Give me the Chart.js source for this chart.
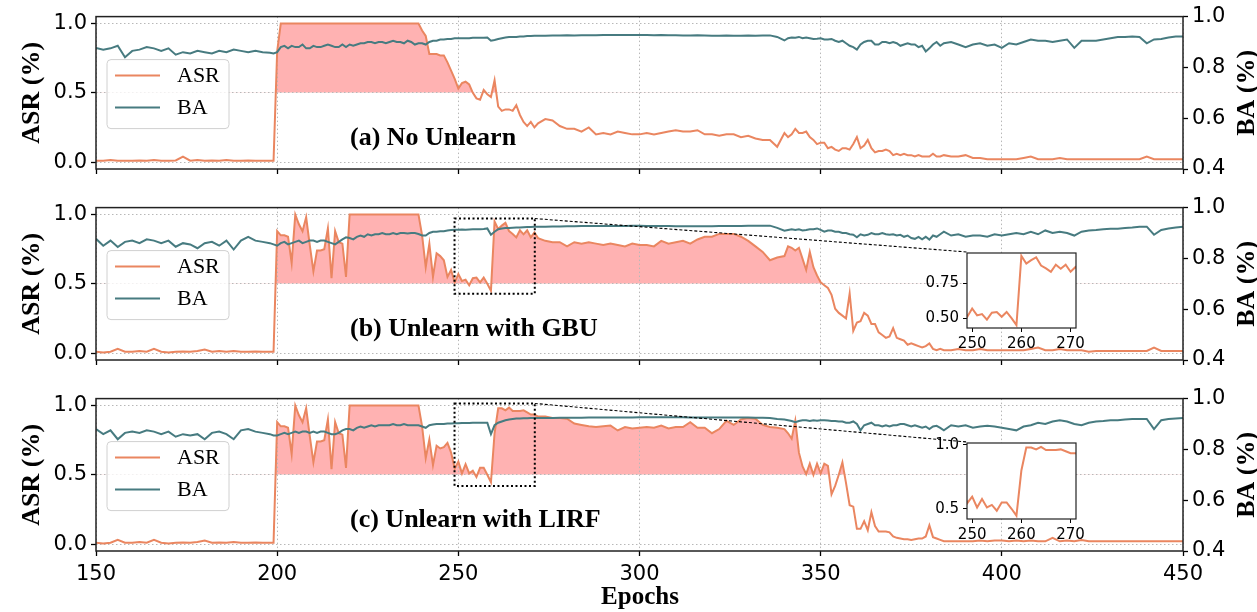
<!DOCTYPE html>
<html>
<head>
<meta charset="utf-8">
<script src="https://cdn.jsdelivr.net/npm/chart.js@4.4.1/dist/chart.umd.min.js"></script>
<style>
  body { margin: 0; background: #fff; }
  #wrap { position: relative; width: 1257px; height: 612px; overflow: hidden; }
  canvas { position: absolute; }
</style>
</head>
<body>
<div id="wrap">
  <canvas id="chartA" width="1257" height="195" style="left:0;top:0"></canvas>
  <canvas id="chartB" width="1257" height="194" style="left:0;top:191px"></canvas>
  <canvas id="chartC" width="1257" height="230" style="left:0;top:382px"></canvas>
  <canvas id="insetB" width="200" height="130" style="left:900px;top:240px"></canvas>
  <canvas id="insetC" width="200" height="130" style="left:900px;top:430px"></canvas>
</div>
<script>
// epochs (dense where the curves move fast)
const epochs = [
  150,152,154,156,158,160,162,164,166,168,170,172,174,176,178,180,182,184,186,188,190,192,194,196,198,
  199,
  200,201,202,203,204,205,206,207,208,209,210,211,212,213,214,215,216,217,218,219,
  220,221,222,223,224,225,226,227,228,229,230,231,232,233,234,235,236,237,238,239,
  240,241,242,243,244,245,246,247,248,249,250,251,252,253,254,255,256,257,258,259,
  260,261,262,263,264,265,266,267,268,269,270,271,272,
  274,276,278,280,282,284,286,288,290,292,294,296,298,300,302,304,306,308,310,312,
  314,316,318,320,322,324,326,328,330,332,334,336,338,340,
  341,342,343,344,345,346,347,348,349,350,351,352,353,354,355,356,357,358,359,360,
  361,362,363,364,365,366,367,368,369,370,371,372,373,374,375,376,377,378,379,380,
  381,382,383,384,
  386,388,390,392,394,396,398,400,402,404,406,408,410,412,414,416,418,420,422,424,
  426,428,430,432,434,436,438,440,442,444,446,448,450
];

// (a) No Unlearn
const asrA = [
  0.01,0.01,0.015,0.01,0.01,0.01,0.012,0.01,0.015,0.01,0.01,0.012,0.04,0.01,0.015,0.01,0.012,0.01,0.015,0.01,0.01,0.012,0.01,0.01,0.01,
  0.01,
  0.80,1.0,1.0,1.0,1.0,1.0,1.0,1.0,1.0,1.0, 1.0,1.0,1.0,1.0,1.0,1.0,1.0,1.0,1.0,1.0,
  1.0,1.0,1.0,1.0,1.0,1.0,1.0,1.0,1.0,1.0, 1.0,1.0,1.0,1.0,1.0,1.0,1.0,1.0,1.0,1.0,
  0.95,0.91,0.78,0.78,0.78,0.77,0.77,0.72,0.66,0.60, 0.53,0.57,0.58,0.56,0.50,0.46,0.45,0.52,0.49,0.47,
  0.59,0.40,0.37,0.38,0.38,0.37,0.41,0.34,0.29,0.26, 0.29,0.25,0.28,
  0.31,0.30,0.26,0.24,0.24,0.22,0.25,0.20,0.21,0.20, 0.22,0.21,0.20,0.20,0.21,0.20,0.21,0.22,0.23,0.22,
  0.22,0.23,0.20,0.20,0.19,0.20,0.20,0.18,0.19,0.17, 0.16,0.16,0.11,0.21,
  0.18,0.20,0.24,0.21,0.21,0.22,0.18,0.16,0.13,0.14, 0.14,0.10,0.11,0.09,0.08,0.10,0.10,0.09,0.13,0.18,
  0.10,0.12,0.16,0.10,0.07,0.08,0.08,0.09,0.08,0.05, 0.06,0.05,0.06,0.05,0.05,0.04,0.05,0.04,0.04,0.04,
  0.06,0.04,0.04,0.05,
  0.04,0.04,0.05,0.03,0.03,0.02,0.02,0.02,0.02,0.02, 0.03,0.04,0.02,0.02,0.02,0.03,0.02,0.02,0.02,0.02,
  0.02,0.02,0.02,0.02,0.02,0.02,0.02,0.04,0.02,0.02, 0.02,0.02,0.02
];
const baA = [
  0.876,0.87,0.875,0.885,0.84,0.865,0.87,0.88,0.875,0.865,0.875,0.85,0.86,0.855,0.865,0.86,0.855,0.865,0.86,0.87,0.865,0.86,0.865,0.86,0.858,
  0.855,
  0.86,0.88,0.885,0.875,0.885,0.88,0.88,0.89,0.875,0.875, 0.885,0.88,0.88,0.885,0.89,0.885,0.88,0.88,0.89,0.88,
  0.89,0.885,0.89,0.895,0.895,0.90,0.90,0.895,0.90,0.90, 0.895,0.90,0.905,0.90,0.90,0.895,0.905,0.90,0.89,0.895,
  0.895,0.89,0.90,0.905,0.905,0.91,0.91,0.912,0.912,0.915, 0.915,0.915,0.915,0.915,0.917,0.917,0.917,0.917,0.918,0.905,
  0.908,0.912,0.915,0.918,0.92,0.92,0.92,0.922,0.922,0.924, 0.924,0.925,0.925,
  0.925,0.926,0.926,0.927,0.926,0.927,0.927,0.927,0.928,0.928, 0.928,0.928,0.928,0.928,0.928,0.927,0.928,0.927,0.927,0.926,
  0.926,0.927,0.926,0.925,0.925,0.926,0.925,0.925,0.926,0.925, 0.926,0.926,0.92,0.906,
  0.915,0.918,0.917,0.92,0.915,0.918,0.915,0.912,0.913,0.915, 0.91,0.91,0.912,0.905,0.90,0.905,0.895,0.885,0.88,0.87,
  0.89,0.90,0.905,0.905,0.89,0.89,0.90,0.90,0.895,0.90, 0.895,0.885,0.89,0.895,0.89,0.89,0.88,0.885,0.863,0.875,
  0.89,0.90,0.885,0.895,
  0.90,0.89,0.88,0.89,0.895,0.885,0.89,0.877,0.895,0.89, 0.90,0.91,0.905,0.905,0.90,0.905,0.91,0.877,0.905,0.905,
  0.905,0.91,0.915,0.92,0.92,0.922,0.92,0.895,0.91,0.912, 0.918,0.922,0.922
];

// (b) Unlearn with GBU
const asrB = [
  0.01,0.005,0.01,0.03,0.01,0.01,0.015,0.01,0.03,0.01,0.005,0.01,0.012,0.01,0.015,0.025,0.01,0.015,0.01,0.015,0.01,0.01,0.012,0.01,0.01,
  0.01,
  0.88,0.85,0.85,0.84,0.65,1.0,0.93,0.88,0.98,0.78, 0.59,0.74,0.74,0.75,0.90,0.54,0.88,0.80,0.79,0.55,
  1.0,1.0,1.0,1.0,1.0,1.0,1.0,1.0,1.0,1.0, 1.0,1.0,1.0,1.0,1.0,1.0,1.0,1.0,1.0,1.0,
  0.85,0.62,0.79,0.55,0.72,0.70,0.67,0.55,0.60,0.51, 0.57,0.52,0.53,0.49,0.54,0.545,0.51,0.545,0.50,0.45,
  0.95,0.895,0.92,0.94,0.88,0.86,0.835,0.886,0.857,0.886, 0.835,0.87,0.83,
  0.81,0.80,0.80,0.77,0.80,0.79,0.80,0.79,0.78,0.79, 0.78,0.77,0.79,0.78,0.78,0.77,0.81,0.79,0.80,0.81,
  0.79,0.82,0.84,0.84,0.86,0.86,0.86,0.84,0.81,0.77, 0.73,0.67,0.69,0.70,
  0.77,0.76,0.74,0.76,0.68,0.60,0.73,0.62,0.56,0.51, 0.49,0.47,0.42,0.32,0.29,0.27,0.25,0.43,0.16,0.22,
  0.23,0.29,0.27,0.21,0.21,0.15,0.13,0.11,0.12,0.18, 0.11,0.10,0.09,0.06,0.07,0.06,0.05,0.04,0.05,0.07,
  0.03,0.02,0.03,0.02,
  0.02,0.03,0.02,0.02,0.03,0.02,0.02,0.02,0.02,0.02, 0.02,0.03,0.04,0.02,0.02,0.03,0.02,0.02,0.02,0.01,
  0.015,0.015,0.015,0.015,0.015,0.015,0.015,0.015,0.04,0.015, 0.015,0.015,0.015
];
const baB = [
  0.877,0.85,0.87,0.845,0.865,0.87,0.86,0.875,0.87,0.86,0.87,0.846,0.86,0.855,0.84,0.86,0.865,0.85,0.87,0.835,0.87,0.885,0.87,0.865,0.86,
  0.855,
  0.85,0.86,0.865,0.855,0.86,0.865,0.87,0.86,0.865,0.87, 0.87,0.865,0.87,0.87,0.865,0.86,0.855,0.865,0.875,0.883,
  0.88,0.875,0.885,0.89,0.885,0.895,0.89,0.895,0.895,0.90, 0.895,0.895,0.90,0.895,0.90,0.90,0.898,0.90,0.90,0.896,
  0.89,0.89,0.90,0.905,0.905,0.907,0.907,0.91,0.912,0.913, 0.913,0.914,0.913,0.914,0.915,0.915,0.915,0.916,0.918,0.893,
  0.905,0.915,0.918,0.92,0.92,0.921,0.922,0.922,0.923,0.924, 0.924,0.925,0.925,
  0.925,0.926,0.926,0.927,0.927,0.928,0.928,0.928,0.928,0.928, 0.928,0.928,0.929,0.929,0.928,0.928,0.928,0.928,0.927,0.927,
  0.927,0.927,0.927,0.927,0.928,0.928,0.928,0.928,0.929,0.929, 0.929,0.929,0.92,0.909,
  0.912,0.915,0.912,0.915,0.91,0.912,0.915,0.915,0.918,0.912, 0.905,0.91,0.91,0.905,0.905,0.90,0.90,0.895,0.893,0.883,
  0.895,0.89,0.893,0.90,0.895,0.895,0.90,0.895,0.893,0.895, 0.89,0.893,0.885,0.89,0.88,0.877,0.885,0.875,0.885,0.874,
  0.89,0.885,0.895,0.905,
  0.89,0.895,0.885,0.89,0.89,0.885,0.895,0.89,0.895,0.90, 0.895,0.905,0.895,0.91,0.90,0.905,0.90,0.89,0.905,0.91,
  0.912,0.915,0.917,0.917,0.92,0.922,0.925,0.925,0.893,0.912, 0.918,0.922,0.925
];

// (c) Unlearn with LIRF
const asrC = [
  0.01,0.005,0.01,0.03,0.01,0.01,0.015,0.01,0.03,0.01,0.005,0.01,0.012,0.01,0.015,0.025,0.01,0.012,0.01,0.015,0.01,0.01,0.012,0.01,0.01,
  0.01,
  0.88,0.85,0.85,0.84,0.65,1.0,0.93,0.88,0.98,0.78, 0.59,0.74,0.74,0.75,0.90,0.54,0.88,0.80,0.79,0.55,
  1.0,1.0,1.0,1.0,1.0,1.0,1.0,1.0,1.0,1.0, 1.0,1.0,1.0,1.0,1.0,1.0,1.0,1.0,1.0,1.0,
  0.85,0.62,0.755,0.57,0.71,0.69,0.70,0.73,0.66,0.544, 0.595,0.51,0.577,0.51,0.53,0.485,0.55,0.55,0.50,0.446,
  0.80,0.98,0.98,0.965,0.985,0.96,0.96,0.96,0.965,0.95, 0.935,0.935,0.92,
  0.92,0.91,0.91,0.905,0.87,0.86,0.85,0.845,0.85,0.855, 0.82,0.845,0.835,0.84,0.845,0.84,0.855,0.835,0.845,0.845,
  0.88,0.84,0.84,0.80,0.83,0.89,0.86,0.90,0.91,0.905, 0.86,0.845,0.84,0.83,
  0.80,0.76,0.89,0.66,0.56,0.505,0.58,0.50,0.58,0.51, 0.58,0.565,0.36,0.42,0.50,0.59,0.44,0.28,0.27,0.11,
  0.11,0.165,0.10,0.23,0.13,0.09,0.09,0.09,0.085,0.055, 0.045,0.04,0.035,0.035,0.03,0.035,0.04,0.04,0.055,0.135,
  0.05,0.04,0.03,0.02,
  0.02,0.02,0.02,0.02,0.025,0.02,0.025,0.025,0.02,0.025, 0.02,0.025,0.02,0.02,0.045,0.02,0.025,0.02,0.03,0.02,
  0.02,0.02,0.02,0.02,0.02,0.02,0.02,0.02,0.02,0.02, 0.02,0.02,0.02
];
const baC = [
  0.88,0.86,0.875,0.84,0.865,0.87,0.865,0.875,0.87,0.86,0.87,0.85,0.86,0.855,0.86,0.84,0.865,0.87,0.86,0.84,0.875,0.88,0.87,0.865,0.86,
  0.855,
  0.855,0.86,0.865,0.86,0.865,0.87,0.865,0.87,0.87,0.865, 0.87,0.865,0.87,0.87,0.865,0.86,0.86,0.865,0.875,0.88,
  0.88,0.875,0.885,0.89,0.885,0.89,0.895,0.89,0.895,0.895, 0.895,0.895,0.90,0.895,0.895,0.90,0.895,0.895,0.895,0.895,
  0.89,0.885,0.895,0.898,0.90,0.90,0.90,0.902,0.902,0.903, 0.903,0.904,0.904,0.904,0.905,0.905,0.905,0.905,0.905,0.86,
  0.895,0.905,0.91,0.915,0.918,0.92,0.922,0.922,0.923,0.923, 0.924,0.924,0.924,
  0.924,0.924,0.925,0.925,0.925,0.925,0.926,0.926,0.926,0.926, 0.926,0.926,0.926,0.927,0.927,0.927,0.927,0.927,0.927,0.927,
  0.926,0.926,0.926,0.926,0.926,0.926,0.926,0.926,0.926,0.925, 0.925,0.924,0.92,0.918,
  0.915,0.912,0.907,0.912,0.915,0.915,0.912,0.915,0.913,0.915, 0.915,0.914,0.912,0.912,0.91,0.91,0.905,0.905,0.91,0.90,
  0.875,0.895,0.90,0.905,0.895,0.895,0.89,0.895,0.89,0.895, 0.895,0.90,0.90,0.895,0.89,0.895,0.89,0.885,0.89,0.88,
  0.89,0.893,0.885,0.875,
  0.895,0.89,0.895,0.885,0.89,0.893,0.89,0.885,0.88,0.875, 0.89,0.895,0.905,0.90,0.91,0.915,0.91,0.90,0.895,0.905,
  0.91,0.912,0.915,0.915,0.918,0.92,0.92,0.92,0.88,0.915, 0.92,0.922,0.924
];

const ORANGE = '#ea8660';
const TEAL = '#477b80';
const FILL = 'rgba(255, 0, 0, 0.3)';
const GRID = '#b8b8b8';
const SERIF = '"Liberation Serif", "Times New Roman", serif';

Chart.defaults.font.family = '"DejaVu Sans", sans-serif';
Chart.defaults.color = '#000';

const pairs = (xs, ys) => xs.map((x, i) => ({ x, y: ys[i] }));

// inset windows, in data units of the main ASR axis
const zoomB = { xMin: 248.95, xMax: 271.1, yMin: 0.429, yMax: 0.971, inset: { x: 967, y: 252 } };
const zoomC = { xMin: 248.95, xMax: 271.1, yMin: 0.42, yMax: 1.015, inset: { x: 967, y: 442 } };

function decor(label, zoom, canvasTop, withXTitle) {
  return {
    id: 'decor',
    afterDraw(chart) {
      const { ctx, chartArea: a, scales } = chart;
      ctx.save();

      // axes frame
      ctx.strokeStyle = '#222';
      ctx.lineWidth = 1.5;
      ctx.strokeRect(a.left, a.top, a.right - a.left, a.bottom - a.top);

      // zoom rectangle + connector to the inset
      if (zoom) {
        const x0 = scales.x.getPixelForValue(zoom.xMin);
        const x1 = scales.x.getPixelForValue(zoom.xMax);
        const y0 = scales.y.getPixelForValue(zoom.yMax);
        const y1 = scales.y.getPixelForValue(zoom.yMin);
        ctx.strokeStyle = '#000';
        ctx.lineWidth = 2;
        ctx.setLineDash([2, 2.5]);
        ctx.strokeRect(x0, y0, x1 - x0, y1 - y0);
        ctx.lineWidth = 1.1;
        ctx.setLineDash([3, 2]);
        ctx.beginPath();
        ctx.moveTo(x1, y0);
        ctx.lineTo(zoom.inset.x, zoom.inset.y - canvasTop);
        ctx.stroke();
        ctx.setLineDash([]);
      }

      // legend
      const lx = 107, ly = a.top + 43;
      ctx.fillStyle = 'rgba(255,255,255,0.8)';
      ctx.strokeStyle = '#d0d0d0';
      ctx.lineWidth = 1;
      ctx.beginPath();
      ctx.roundRect(lx, ly, 122, 69, 4);
      ctx.fill();
      ctx.stroke();
      const items = [['ASR', ORANGE, ly + 16], ['BA', TEAL, ly + 48]];
      ctx.font = '22px ' + SERIF;
      ctx.textBaseline = 'middle';
      ctx.textAlign = 'left';
      items.forEach(([t, c, y]) => {
        ctx.strokeStyle = c;
        ctx.lineWidth = 2;
        ctx.beginPath();
        ctx.moveTo(115, y);
        ctx.lineTo(160, y);
        ctx.stroke();
        ctx.fillStyle = '#000';
        ctx.fillText(t, 177, y + 1);
      });

      // panel label
      ctx.font = 'bold 26px ' + SERIF;
      ctx.textBaseline = 'alphabetic';
      ctx.fillText(label, 350, a.top + 128);

      // axis titles
      const mid = (a.top + a.bottom) / 2;
      ctx.textAlign = 'center';
      ctx.textBaseline = 'middle';
      [['ASR (%)', 32], ['BA (%)', 1247]].forEach(([t, x]) => {
        ctx.save();
        ctx.translate(x, mid);
        ctx.rotate(-Math.PI / 2);
        ctx.fillText(t, 0, 0);
        ctx.restore();
      });
      if (withXTitle) {
        ctx.font = 'bold 25px ' + SERIF;
        ctx.textBaseline = 'alphabetic';
        ctx.fillText('Epochs', 640, a.bottom + 53);
      }
      ctx.restore();
    }
  };
}

function mainChart(id, asr, ba, label, zoom, canvasTop, xHeight, showX) {
  const tickFont = { size: 21 };
  const gridOpts = { color: GRID, lineWidth: 1, tickColor: '#000', tickLength: 5, tickWidth: 1.3 };
  return new Chart(document.getElementById(id), {
    type: 'line',
    data: {
      datasets: [
        {
          label: 'ASR', data: pairs(epochs, asr), yAxisID: 'y', order: 1,
          borderColor: ORANGE, borderWidth: 2, pointRadius: 0, tension: 0,
          fill: { target: { value: 0.5 }, above: FILL, below: 'rgba(0,0,0,0)' }
        },
        {
          label: 'BA', data: pairs(epochs, ba), yAxisID: 'y1', order: 0,
          borderColor: TEAL, borderWidth: 2, pointRadius: 0, tension: 0, fill: false
        }
      ]
    },
    options: {
      responsive: false,
      animation: false,
      events: [],
      layout: { padding: { top: 14, left: 0, right: 0, bottom: 0 } },
      plugins: {
        legend: { display: false },
        tooltip: { enabled: false },
        filler: { drawTime: 'beforeDraw' }
      },
      scales: {
        x: {
          type: 'linear', min: 150, max: 450,
          ticks: { stepSize: 50, display: showX, font: tickFont, padding: 6, maxRotation: 0 },
          grid: gridOpts,
          border: { display: false, dash: [1.5, 2.5] },
          afterFit: s => { s.height = xHeight; }
        },
        y: {
          position: 'left', min: -0.05, max: 1.05,
          afterBuildTicks: s => { s.ticks = [0, 0.5, 1].map(v => ({ value: v })); },
          ticks: { font: tickFont, padding: 4, callback: v => v.toFixed(1) },
          grid: gridOpts,
          border: { display: false, dash: [1.5, 2.5] },
          afterFit: s => { s.width = 96; }
        },
        y1: {
          position: 'right', min: 0.4, max: 1.0,
          ticks: { stepSize: 0.2, font: tickFont, padding: 4, callback: v => v.toFixed(1) },
          grid: { drawOnChartArea: false, tickColor: '#000', tickLength: 5, tickWidth: 1.3 },
          border: { display: false },
          afterFit: s => { s.width = 74; }
        }
      }
    },
    plugins: [decor(label, zoom, canvasTop, showX)]
  });
}

const insetFrame = {
  id: 'insetFrame',
  beforeDraw(chart) {
    const { ctx, chartArea: a } = chart;
    ctx.save();
    ctx.fillStyle = '#fff';
    ctx.fillRect(a.left, a.top, a.right - a.left, a.bottom - a.top);
    ctx.restore();
  },
  afterDraw(chart) {
    const { ctx, chartArea: a } = chart;
    ctx.save();
    ctx.strokeStyle = '#222';
    ctx.lineWidth = 1.2;
    ctx.strokeRect(a.left, a.top, a.right - a.left, a.bottom - a.top);
    ctx.restore();
  }
};

function insetChart(id, asr, zoom, yTicks, digits, xHeight) {
  const xs = [], ys = [];
  epochs.forEach((e, i) => { if (e >= 248 && e <= 272) { xs.push(e); ys.push(asr[i]); } });
  const font = { size: 15 };
  const grid = { drawOnChartArea: false, tickColor: '#000', tickLength: 4, tickWidth: 1 };
  return new Chart(document.getElementById(id), {
    type: 'line',
    data: {
      datasets: [{ data: pairs(xs, ys), borderColor: ORANGE, borderWidth: 2, pointRadius: 0, tension: 0, fill: false }]
    },
    options: {
      responsive: false,
      animation: false,
      events: [],
      layout: { padding: { top: 12, left: 0, right: 24, bottom: 0 } },
      plugins: { legend: { display: false }, tooltip: { enabled: false } },
      scales: {
        x: {
          type: 'linear', min: zoom.xMin, max: zoom.xMax,
          afterBuildTicks: s => { s.ticks = [250, 260, 270].map(v => ({ value: v })); },
          ticks: { font, padding: 3, maxRotation: 0 },
          grid, border: { display: false },
          afterFit: s => { s.height = xHeight; }
        },
        y: {
          min: zoom.yMin, max: zoom.yMax,
          afterBuildTicks: s => { s.ticks = yTicks.map(v => ({ value: v })); },
          ticks: { font, padding: 4, callback: v => v.toFixed(digits) },
          grid, border: { display: false },
          afterFit: s => { s.width = 67; }
        }
      }
    },
    plugins: [insetFrame]
  });
}

mainChart('chartA', asrA, baA, '(a) No Unlearn', null, 0, 26, false);
mainChart('chartB', asrB, baB, '(b) Unlearn with GBU', zoomB, 191, 25, false);
mainChart('chartC', asrC, baC, '(c) Unlearn with LIRF', zoomC, 382, 61, true);
insetChart('insetB', asrB, zoomB, [0.5, 0.75], 2, 42);
insetChart('insetC', asrC, zoomC, [0.5, 1.0], 1, 41);
</script>
</body>
</html>
